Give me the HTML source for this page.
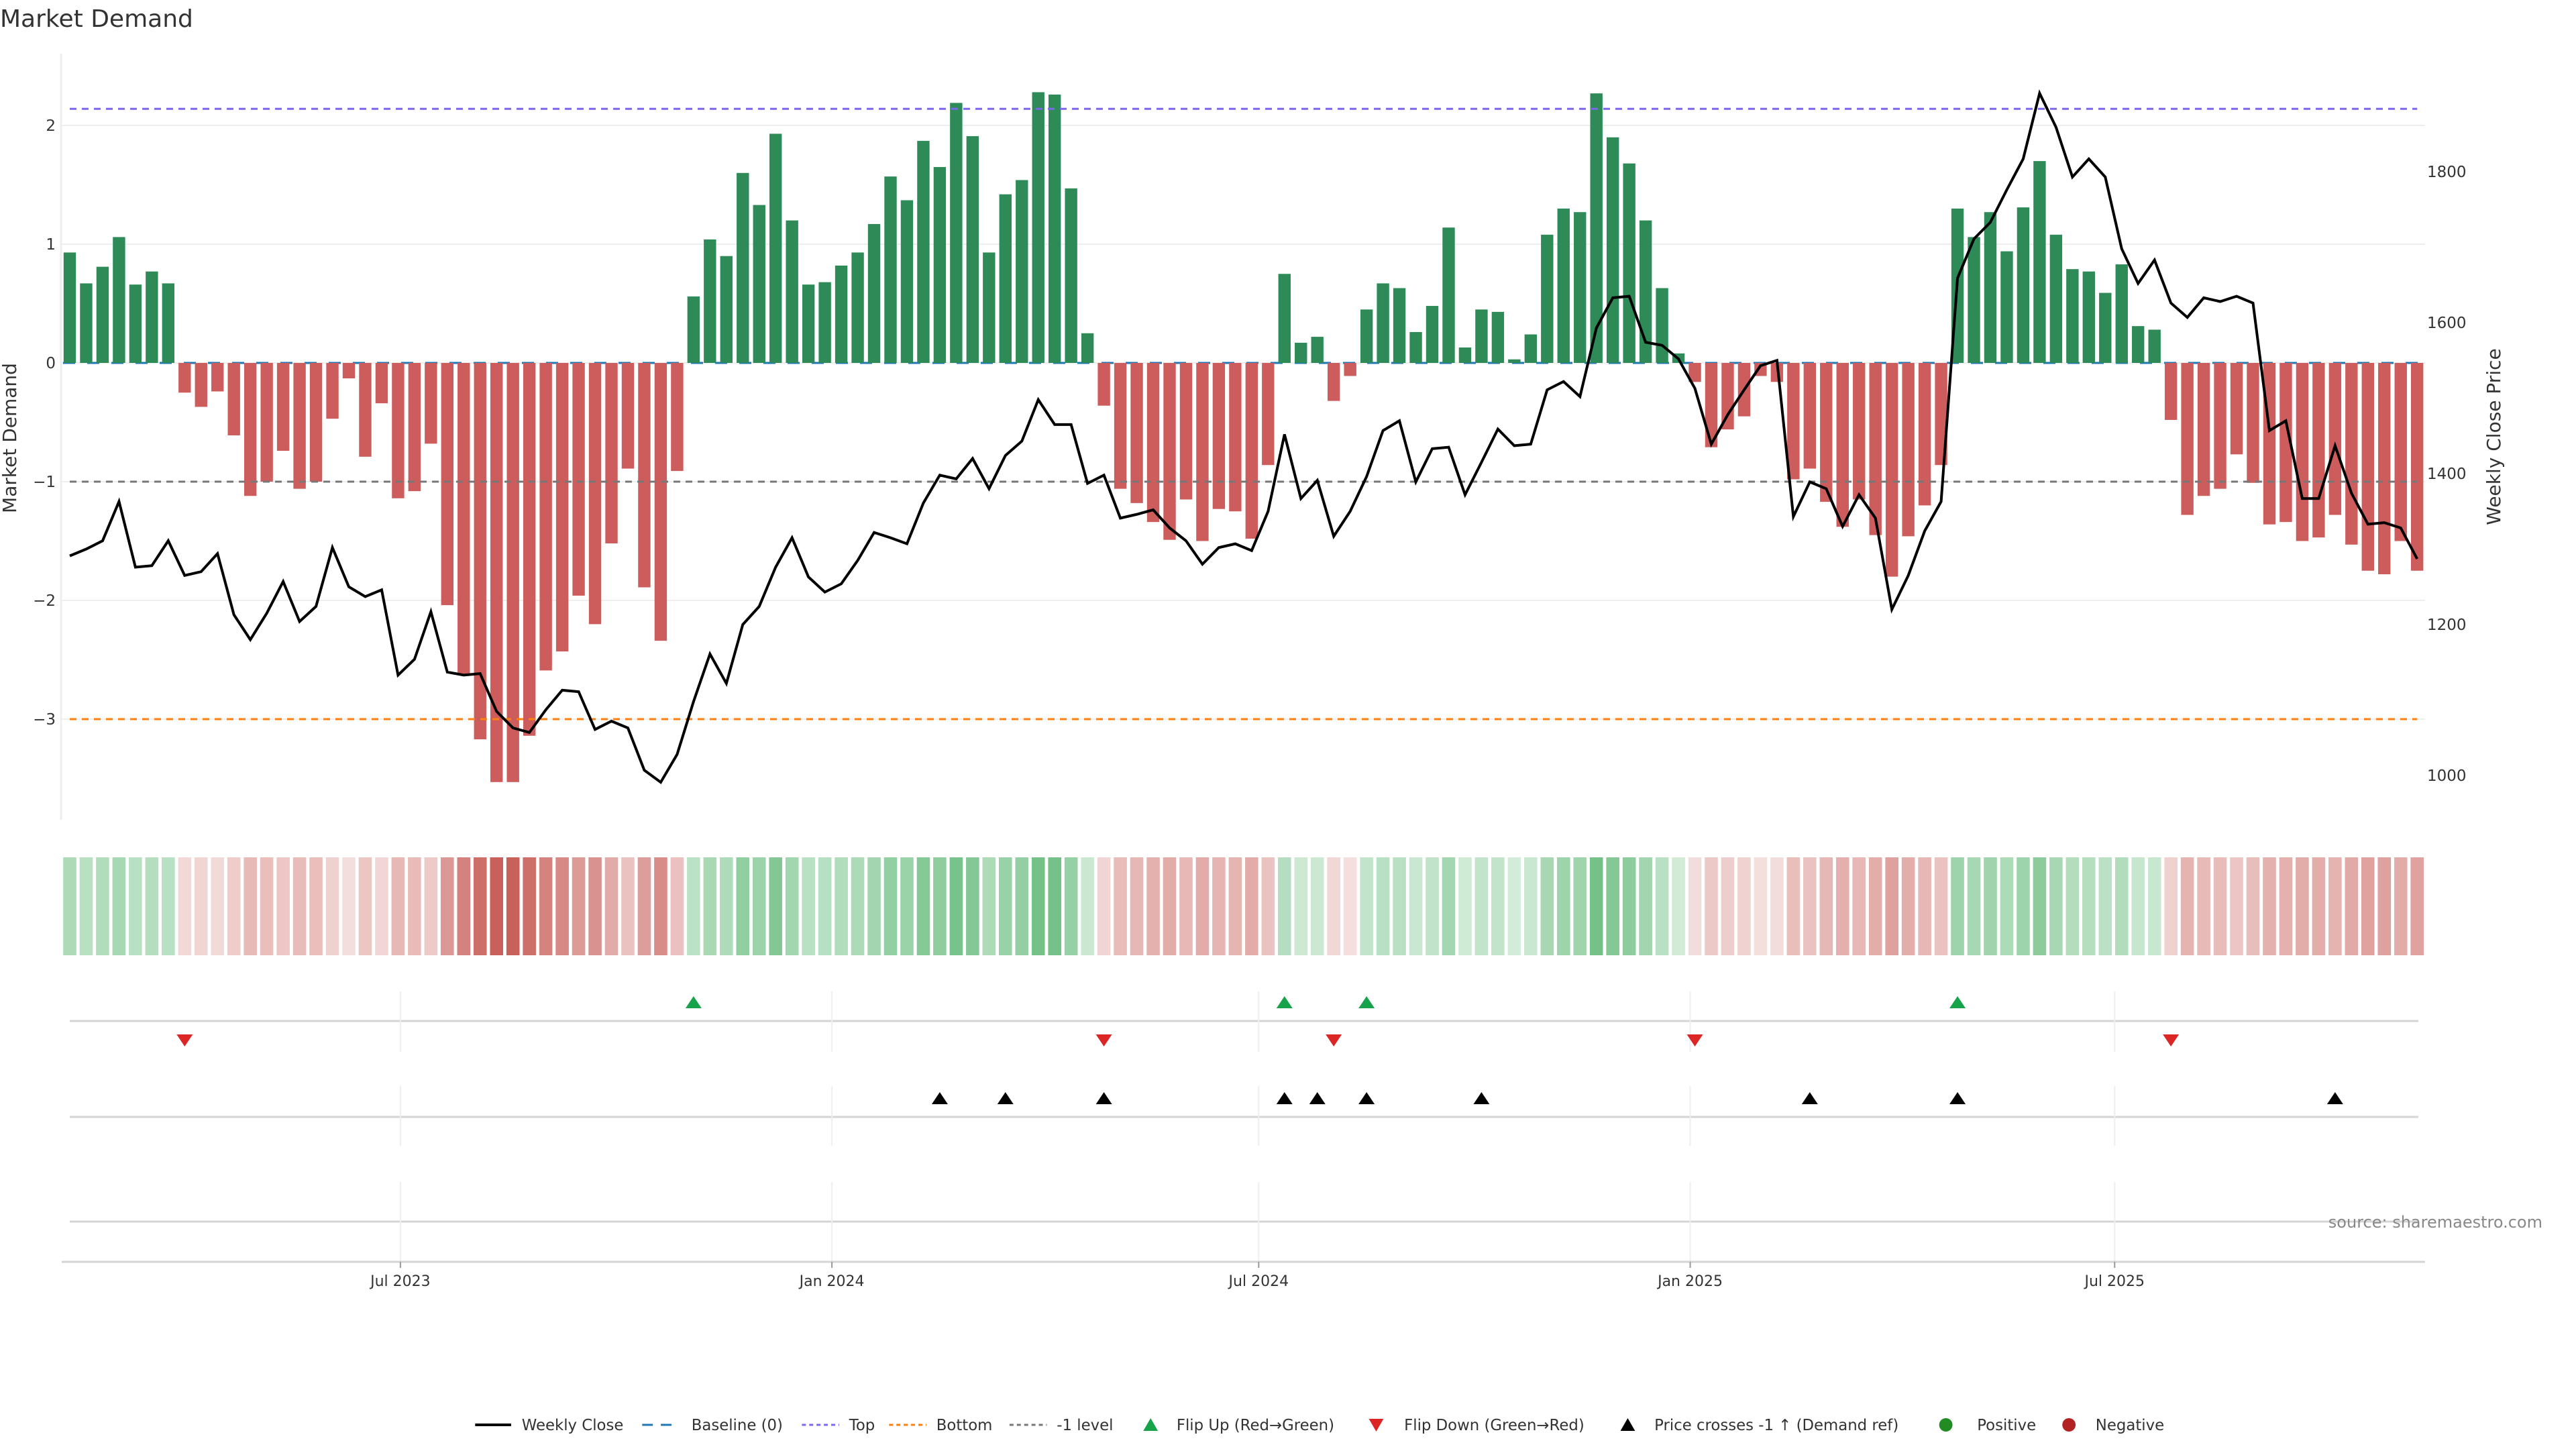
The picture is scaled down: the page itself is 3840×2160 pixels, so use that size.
<!DOCTYPE html>
<html><head><meta charset="utf-8"><title>Market Demand</title>
<style>
html,body{margin:0;padding:0;background:#fff;}
svg{display:block;font-family:"DejaVu Sans","Liberation Sans",sans-serif;}
</style></head>
<body>
<svg id="chart" width="3840" height="2160" viewBox="0 0 3840 2160" xmlns="http://www.w3.org/2000/svg">
<rect x="0" y="0" width="3840" height="2160" fill="#fff"/>
<text x="0" y="40" font-size="36" fill="#333">Market Demand</text>
<g id="grid"></g>
<g id="bars"></g>
<g id="refs"></g>
<g id="price"></g>
<g id="axes"></g>
<g id="heat"></g>
<g id="events"></g>
<g id="xaxis"></g>
<text x="3790" y="1830" font-size="24" fill="#888" text-anchor="end">source: sharemaestro.com</text>
<g id="legend" transform="translate(2,0) scale(0.992,1)"></g>
</svg>
<script>
// ---- data ----
const demand = [0.93,0.67,0.81,1.06,0.66,0.77,0.67,-0.25,-0.37,-0.24,
-0.61,-1.12,-1.0,-0.74,-1.06,-1.0,-0.47,-0.13,-0.79,-0.34,
-1.14,-1.08,-0.68,-2.04,-2.63,-3.17,-3.53,-3.53,-3.14,-2.59,
-2.43,-1.96,-2.2,-1.52,-0.89,-1.89,-2.34,-0.91,0.56,1.04,
0.9,1.6,1.33,1.93,1.2,0.66,0.68,0.82,0.93,1.17,
1.57,1.37,1.87,1.65,2.19,1.91,0.93,1.42,1.54,2.28,
2.26,1.47,0.25,-0.36,-1.06,-1.18,-1.34,-1.49,-1.15,-1.5,
-1.23,-1.25,-1.48,-0.86,0.75,0.17,0.22,-0.32,-0.11,0.45,
0.67,0.63,0.26,0.48,1.14,0.13,0.45,0.43,0.03,0.24,
1.08,1.3,1.27,2.27,1.9,1.68,1.2,0.63,0.08,-0.16,
-0.71,-0.56,-0.45,-0.11,-0.16,-0.98,-0.89,-1.17,-1.38,-1.15,
-1.45,-1.8,-1.46,-1.2,-0.86,1.3,1.06,1.27,0.94,1.31,
1.7,1.08,0.79,0.77,0.59,0.83,0.31,0.28,-0.48,-1.28,
-1.12,-1.06,-0.77,-1.01,-1.36,-1.34,-1.5,-1.47,-1.28,-1.53,
-1.75,-1.78,-1.5,-1.75];
const closePrice = [1291,1300,1311,1363,1276,1278,1311,1265,1270,1294,
1213,1180,1215,1257,1204,1224,1302,1250,1237,1246,
1133,1154,1217,1137,1133,1135,1085,1063,1057,1087,
1113,1111,1061,1072,1063,1007,991,1028,1098,1161,
1122,1200,1224,1276,1315,1263,1243,1254,1285,1322,
1315,1307,1361,1398,1393,1420,1380,1424,1443,1498,
1465,1465,1387,1398,1341,1346,1352,1328,1311,1280,
1302,1307,1298,1350,1452,1367,1391,1317,1350,1396,
1457,1470,1389,1433,1435,1372,1415,1459,1437,1439,
1511,1522,1502,1593,1633,1635,1574,1570,1552,1513,
1439,1478,1511,1543,1550,1343,1389,1380,1330,1372,
1341,1220,1265,1324,1363,1659,1711,1733,1776,1817,
1904,1859,1793,1817,1793,1698,1652,1683,1626,1607,
1633,1628,1635,1626,1457,1470,1367,1367,1437,1374,
1333,1335,1328,1287];
const priceCrossIdx = [53,57,63,74,76,79,86,106,115,138];
const leftTicks = [-3,-2,-1,0,1,2];
const rightTicks = [1000,1200,1400,1600,1800];
const xTickLabels = ["Jul 2023","Jan 2024","Jul 2024","Jan 2025","Jul 2025"];
const xTickDates = ["2023-07-01","2024-01-01","2024-07-01","2025-01-01","2025-07-01"];
const topLevel = 2.14, bottomLevel = -3.0, minusOneLevel = -1.0;
const startDate = "2023-02-10";

// ---- scales ----
const NS="http://www.w3.org/2000/svg";
const X0=104, STEP=24.47, PL=91, PR=3615;
const xi = i => X0 + i*STEP;
const xd = d => X0 + (Date.parse(d)-Date.parse(startDate))/(7*86400000)*STEP;
const yL = v => 541 - v*177;
const yR = p => 706 - (p-1400)*1.125;
function mk(tag, attrs, parent){const e=document.createElementNS(NS,tag);for(const k in attrs)e.setAttribute(k,attrs[k]);document.getElementById(parent).appendChild(e);return e;}

// grid
leftTicks.forEach(t=>{
  const l=mk('line',{x1:PL,x2:PR,y1:yL(t),y2:yL(t),stroke:'#eeeeee','stroke-width':2},'grid');
  
  
});
const bl=mk('line',{x1:X0-10,x2:xi(demand.length-1)+10,y1:yL(0),y2:yL(0),stroke:'#1f77b4','stroke-width':3,'stroke-dasharray':'18 18'},'grid');



// bars
demand.forEach((v,i)=>{
  const y0=yL(0), y1=yL(v);
  const r=mk('rect',{x:xi(i)-9.2,width:18.4,y:Math.min(y0,y1),height:Math.max(1,Math.abs(y1-y0)),fill:v>=0?'#2e8b57':'#cd5c5c'},'bars');
  
  
});

// reference lines
[[topLevel,'#7b68ee','top-line'],[bottomLevel,'#ff7f0e','bottom-line'],[minusOneLevel,'#777777','minus-one-level']].forEach(([v,c,n])=>{
  const l=mk('line',{x1:X0,x2:xi(demand.length-1),y1:yL(v),y2:yL(v),stroke:c,'stroke-width':3,'stroke-dasharray':'10 8'},'refs');
  
  
});

// price line
const pl=mk('polyline',{points:closePrice.map((p,i)=>xi(i)+','+yR(p)).join(' '),fill:'none',stroke:'#000','stroke-width':4,'stroke-linejoin':'miter'},'price');



// axes
const la=mk('line',{x1:PL,x2:PL,y1:80,y2:1222,stroke:'#eeeeee','stroke-width':3},'axes');


leftTicks.forEach(t=>{
  const tx=mk('text',{x:83,y:yL(t)+8,'font-size':23,fill:'#333','text-anchor':'end'},'axes');
  tx.textContent=(t<0?'\u2212'+(-t):String(t));
  
  
});
rightTicks.forEach(t=>{
  const tx=mk('text',{x:3618,y:yR(t)+8,'font-size':23,fill:'#333'},'axes');
  tx.textContent=String(t);
  
  
});
const yt=mk('text',{x:0,y:0,'font-size':28,fill:'#333','text-anchor':'middle',transform:'translate(24,653) rotate(-90)'},'axes');
yt.textContent='Market Demand';


const yt2=mk('text',{x:0,y:0,'font-size':28,fill:'#333','text-anchor':'middle',transform:'translate(3727,651) rotate(-90)'},'axes');
yt2.textContent='Weekly Close Price';



// heat strip
function heatColor(v){
  if(v>=0){const t=Math.min(1,v/2.3),a=0.2+0.45*t;return `rgb(${Math.round(255-(255-40)*a)},${Math.round(255-(255-160)*a)},${Math.round(255-(255-70)*a)})`;}
  const t=Math.min(1,-v/3.6),a=0.15+0.7*t;return `rgb(${Math.round(255-(255-190)*a)},${Math.round(255-(255-66)*a)},${Math.round(255-(255-59)*a)})`;
}
demand.forEach((v,i)=>{
  const r=mk('rect',{x:xi(i)-9.8,width:19.6,y:1278,height:146,fill:heatColor(v)},'heat');
  
  
});

// event rows
[1522,1665,1821].forEach(y=>{
  const l=mk('line',{x1:104,x2:3605,y1:y,y2:y,stroke:'#d4d4d4','stroke-width':3},'events');
  
  
});
xTickDates.forEach(d=>{
  const x=xd(d);
  [[1478,1568],[1619,1708],[1762,1881]].forEach(([a,b])=>{
    const l=mk('line',{x1:x,x2:x,y1:a,y2:b,stroke:'#eeeeee','stroke-width':2},'events');
    
    
  });
});
function tri(x,y,up,color,name){
  const pts=up?`${x-12},${y+9} ${x+12},${y+9} ${x},${y-9}`:`${x-12},${y-9} ${x+12},${y-9} ${x},${y+9}`;
  const p=mk('polygon',{points:pts,fill:color},'events');
  
  
}
for(let i=1;i<demand.length;i++){
  if(demand[i-1]<0&&demand[i]>=0) tri(xi(i),1494,true,'#16a34a','flip-up-marker');
  if(demand[i-1]>=0&&demand[i]<0) tri(xi(i),1551,false,'#dc2626','flip-down-marker');
}
priceCrossIdx.forEach(i=>tri(xi(i),1637,true,'#000','price-cross-marker'));

// x axis
const xa=mk('line',{x1:92,x2:3615,y1:1881,y2:1881,stroke:'#d4d4d4','stroke-width':3},'xaxis');


xTickDates.forEach((d,k)=>{
  const x=xd(d);
  const t=mk('line',{x1:x,x2:x,y1:1881,y2:1890,stroke:'#999','stroke-width':2},'xaxis');
  
  
  const tx=mk('text',{x:x,y:1917,'font-size':22,fill:'#333','text-anchor':'middle'},'xaxis');
  tx.textContent=xTickLabels[k];
  
  
});

// legend
const LY=2124;
function ltext(x,s,name){const t=mk('text',{x:x,y:LY+8,'font-size':23,fill:'#333'},'legend');t.textContent=s;}
function lline(x1,x2,c,dash,w,name){const l=mk('line',{x1:x1,x2:x2,y1:LY,y2:LY,stroke:c,'stroke-width':w,'stroke-dasharray':dash},'legend');}
lline(712,766,'#000','none',4,'legend-weekly-close-swatch'); ltext(782,'Weekly Close','legend-weekly-close');
lline(963,1019,'#1f77b4','16 12',3,'legend-baseline-swatch'); ltext(1037,'Baseline (0)','legend-baseline');
lline(1203,1259,'#7b68ee','6 5',3,'legend-top-swatch'); ltext(1274,'Top','legend-top');
lline(1334,1390,'#ff7f0e','6 5',3,'legend-bottom-swatch'); ltext(1405,'Bottom','legend-bottom');
lline(1515,1571,'#777','6 5',3,'legend-minus-one-swatch'); ltext(1586,'-1 level','legend-minus-one');
(function(){
  const g=[[1727,true,'#16a34a','legend-flip-up-marker'],[2066,false,'#dc2626','legend-flip-down-marker'],[2444,true,'#000','legend-price-cross-marker']];
  g.forEach(([x,up,c,n])=>{const pts=up?`${x-11},${LY+9} ${x+11},${LY+9} ${x},${LY-10}`:`${x-11},${LY-9} ${x+11},${LY-9} ${x},${LY+10}`;const p=mk('polygon',{points:pts,fill:c},'legend');});
})();
ltext(1766,'Flip Up (Red\u2192Green)','legend-flip-up');
ltext(2108,'Flip Down (Green\u2192Red)','legend-flip-down');
ltext(2484,'Price crosses -1 \u2191 (Demand ref)','legend-price-cross');
const c1=mk('circle',{cx:2922,cy:LY,r:10,fill:'#228b22'},'legend');


ltext(2969,'Positive','legend-positive');
const c2=mk('circle',{cx:3107,cy:LY,r:10,fill:'#b22222'},'legend');


ltext(3147,'Negative','legend-negative');
</script>
</body></html>
